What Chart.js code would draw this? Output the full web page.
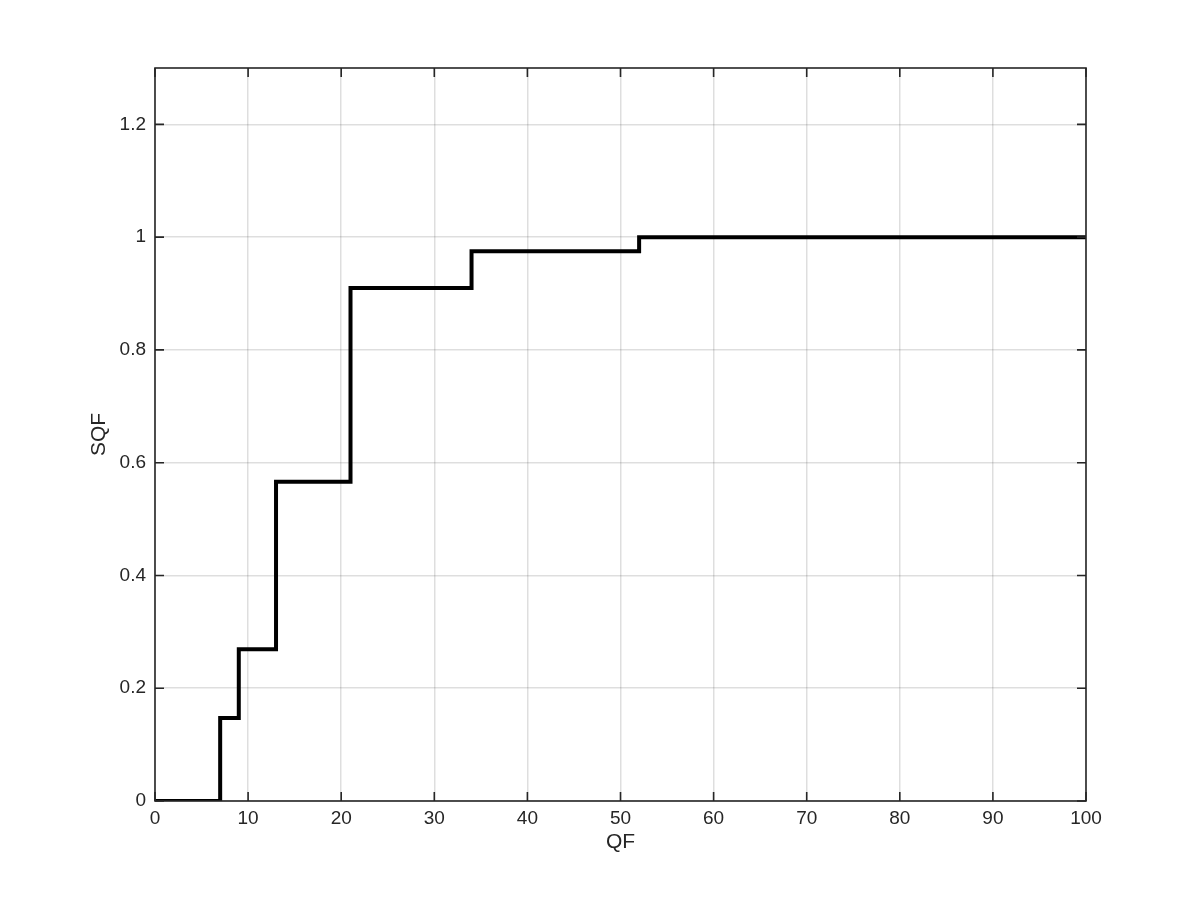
<!DOCTYPE html>
<html><head><meta charset="utf-8">
<script src="https://cdn.jsdelivr.net/npm/chart.js@4"></script>
<style>html,body{margin:0;padding:0;background:#fff}#wrap{width:1200px;height:900px}</style>
</head><body><div id="wrap"><canvas id="c" width="1200" height="900"></canvas></div>
<script>
const qf = [0, 7, 9, 13, 21, 34, 52, 100];
const sqf = [0, 0.147, 0.269, 0.566, 0.910, 0.975, 1.0, 1.0];
const xTicks = [0, 10, 20, 30, 40, 50, 60, 70, 80, 90, 100];
const yTicks = [0, 0.2, 0.4, 0.6, 0.8, 1, 1.2];
const axisColor = '#262626';
const fontFam = '"Liberation Sans", Arial, Helvetica, sans-serif';

const boxPlugin = {
  id: 'box',
  afterDatasetsDraw(chart) {
    const {ctx, chartArea: a, scales: {x, y}} = chart;
    ctx.save();
    ctx.strokeStyle = axisColor;
    ctx.lineWidth = 1.6;
    const L = 9;
    ctx.beginPath();
    xTicks.forEach(v => {
      const px = x.getPixelForValue(v);
      ctx.moveTo(px, a.bottom); ctx.lineTo(px, a.bottom - L);
      ctx.moveTo(px, a.top); ctx.lineTo(px, a.top + L);
    });
    yTicks.forEach(v => {
      const py = y.getPixelForValue(v);
      ctx.moveTo(a.left, py); ctx.lineTo(a.left + L, py);
      ctx.moveTo(a.right, py); ctx.lineTo(a.right - L, py);
    });
    ctx.stroke();
    ctx.strokeRect(a.left, a.top, a.right - a.left, a.bottom - a.top);
    ctx.restore();
  }
};

new Chart(document.getElementById('c'), {
  type: 'line',
  data: {
    datasets: [{
      data: qf.map((v, i) => ({x: v, y: sqf[i]})),
      borderColor: '#000',
      borderWidth: 4,
      stepped: 'before',
      pointRadius: 0,
      fill: false
    }]
  },
  options: {
    responsive: false,
    animation: false,
    layout: {padding: {top: 68, right: 114, left: 0, bottom: 0}},
    plugins: {legend: {display: false}, tooltip: {enabled: false}},
    scales: {
      x: {
        type: 'linear', min: 0, max: 100,
        afterFit: s => { s.height = 99; },
        afterBuildTicks: s => { s.ticks = xTicks.map(v => ({value: v})); },
        grid: {color: 'rgba(0,0,0,0.13)', lineWidth: 1.5, drawTicks: false},
        border: {display: false},
        ticks: {color: axisColor, padding: 6, maxRotation: 0, font: {family: fontFam, size: 19}},
        title: {display: true, text: 'QF', color: axisColor, font: {family: fontFam, size: 21}, padding: {top: 0, bottom: 45}}
      },
      y: {
        type: 'linear', min: 0, max: 1.3,
        afterFit: s => { s.width = 155; },
        afterBuildTicks: s => { s.ticks = yTicks.map(v => ({value: v})); },
        grid: {color: 'rgba(0,0,0,0.13)', lineWidth: 1.5, drawTicks: false},
        border: {display: false},
        ticks: {color: axisColor, padding: 9, font: {family: fontFam, size: 19}, callback: v => String(Math.round(v * 10) / 10)},
        title: {display: true, text: 'SQF', color: axisColor, font: {family: fontFam, size: 21}, padding: {top: 87, bottom: 0}}
      }
    }
  },
  plugins: [boxPlugin]
});
</script></body></html>
